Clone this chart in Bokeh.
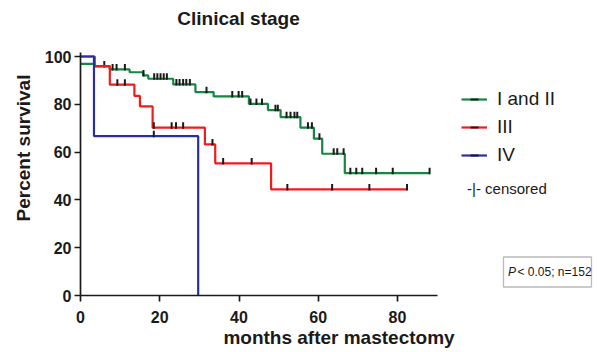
import numpy as np
from bokeh.plotting import figure
from bokeh.models import (Range1d, Label, Legend, LegendItem, BoxAnnotation,
                          FixedTicker)
from bokeh.embed import file_html
from bokeh.resources import INLINE

# ---------------- data ----------------
groups = ["I and II", "III", "IV"]

green_t = [0, 3.6, 7.4, 12.4, 15.8, 17.1, 23.4, 29.0, 33.6, 42.5, 47.3, 50.5, 55.5, 58.9, 61.0, 66.7, 88.1]
green_s = [96.9, 95.9, 94.6, 93.4, 92.1, 90.7, 88.3, 85.1, 83.3, 80.2, 77.6, 74.6, 70.2, 65.6, 59.3, 51.2, 51.2]
green_cens = [6.0, 8.1, 9.1, 11.2, 15.9, 18.6, 19.4, 20.2, 21.0, 21.8, 24.2, 25.0, 25.9, 26.7, 27.6,
              31.8, 38.3, 39.9, 40.8, 42.9, 44.4, 45.8, 49.2, 49.8, 52.0, 53.0, 54.0, 54.7, 57.4, 58.4,
              60.3, 63.9, 64.8, 66.4, 68.1, 69.6, 71.1, 74.6, 78.8, 88.1]

red_t = [0, 3.6, 7.4, 13.6, 15.0, 18.2, 31.4, 34.0, 48.1, 82.4]
red_s = [100, 96.0, 88.2, 83.5, 79.1, 70.2, 63.2, 55.3, 44.4, 44.4]
red_cens = [9.3, 11.2, 18.5, 23.0, 24.1, 25.9, 33.3, 36.0, 43.2, 52.2, 63.5, 72.9, 82.4]

blue_t = [0, 3.4, 29.7]
blue_s = [100, 66.7, 0]
blue_cens = [18.5]

x_ticks = [0, 20, 40, 60, 80]
y_ticks = [0, 20, 40, 60, 80, 100]

title_text = "Clinical stage"
x_label = "months after mastectomy"
y_label = "Percent survival"
stat_text = "< 0.05; n=152"

colors = ["#15873f", "#f01c1c", "#2b2f9c"]

# ---------------- layout helpers (page px -> data) ----------------
PX_X0, PX_PER_X = 80.0, 3.9625
PX_Y0, PX_PER_Y = 295.0, 2.39
def dx(px):
    return (px - PX_X0) / PX_PER_X
def dy(py):
    return (PX_Y0 - py) / PX_PER_Y

W, H = 597, 352
BL, BB = 80, 57
p = figure(width=W, height=H, output_backend="svg", toolbar_location=None,
           x_range=Range1d(0, (W - BL) / PX_PER_X),
           y_range=Range1d(0, (H - BB) / PX_PER_Y),
           min_border_left=BL, min_border_right=0, min_border_top=0, min_border_bottom=BB)
p.outline_line_color = None
p.grid.visible = False
p.background_fill_color = "white"

FONT = "Liberation Sans"
for ax in (p.xaxis[0], p.yaxis[0]):
    ax.axis_line_width = 1.7
    ax.axis_line_color = "#1a1a1a"
    ax.major_tick_line_width = 1.7
    ax.major_tick_line_color = "#1a1a1a"
    ax.major_tick_out = 6
    ax.major_tick_in = 0
    ax.minor_tick_out = 0
    ax.minor_tick_in = 0
    ax.major_label_text_font = FONT
    ax.major_label_text_font_style = "bold"
    ax.major_label_text_font_size = "16px"
    ax.major_label_text_color = "#1a1a1a"
    ax.axis_label_text_font = FONT
    ax.axis_label_text_font_style = "bold"
    ax.axis_label_text_font_size = "19px"
    ax.axis_label_text_color = "#1a1a1a"

p.xaxis.ticker = FixedTicker(ticks=x_ticks)
p.yaxis.ticker = FixedTicker(ticks=y_ticks)
p.xaxis.bounds = (0, 90)
p.yaxis.bounds = (0, 101.5)
p.xaxis.axis_label = x_label
p.yaxis.axis_label = y_label
p.xaxis.major_label_standoff = 9
p.xaxis.axis_label_standoff = 1
p.yaxis.major_label_standoff = 3
p.yaxis.axis_label_standoff = 8


def surv_at(ts, ss, t):
    idx = 0
    for i, ti in enumerate(ts):
        if ti <= t:
            idx = i
    return ss[idx]

items = []
for name, ts, ss, cens, col in [
        (groups[0], green_t, green_s, green_cens, colors[0]),
        (groups[1], red_t, red_s, red_cens, colors[1]),
        (groups[2], blue_t, blue_s, blue_cens, colors[2])]:
    r_line = p.step(x=ts, y=ss, mode="after", line_color=col, line_width=2.2)
    cy = [surv_at(ts, ss, c) + 0.9 for c in cens]
    r_tick = p.scatter(x=cens, y=cy, marker="dash", angle=np.pi / 2, size=6.5,
                       line_color="#1a1a1a", line_width=2.0, fill_color=None)
    items.append(LegendItem(label=name, renderers=[r_line, r_tick]))

legend = Legend(items=items, location=(381, 129), orientation="vertical",
                label_text_font=FONT, label_text_font_size="19px", label_text_color="#1a1a1a",
                label_height=20, glyph_height=20, glyph_width=26, label_standoff=10,
                spacing=6, padding=0, margin=0, border_line_color=None,
                background_fill_alpha=0)
p.add_layout(legend, "center")

p.add_layout(Label(x=dx(238), y=dy(18), text=title_text, text_align="center",
                   text_baseline="middle", text_font=FONT, text_font_style="bold",
                   text_font_size="19px", text_color="#1a1a1a"))

p.add_layout(Label(x=dx(466.5), y=dy(188), text="-|- censored", text_align="left",
                   text_baseline="middle", text_font=FONT, text_font_size="15px",
                   text_color="#1a1a1a"))

p.add_layout(BoxAnnotation(left=dx(503), right=dx(591), top=dy(256.5), bottom=dy(286.5),
                           fill_alpha=0, line_color="#1a1a1a", line_width=1.3))
p.add_layout(Label(x=dx(507.5), y=dy(271.5), text="P", text_align="left",
                   text_baseline="middle", text_font=FONT, text_font_style="italic",
                   text_font_size="12px", text_color="#1a1a1a"))
p.add_layout(Label(x=dx(517), y=dy(271.5), text=stat_text, text_align="left",
                   text_baseline="middle", text_font=FONT,
                   text_font_size="12px", text_color="#1a1a1a"))

open("out.html", "w").write(file_html(p, INLINE))
